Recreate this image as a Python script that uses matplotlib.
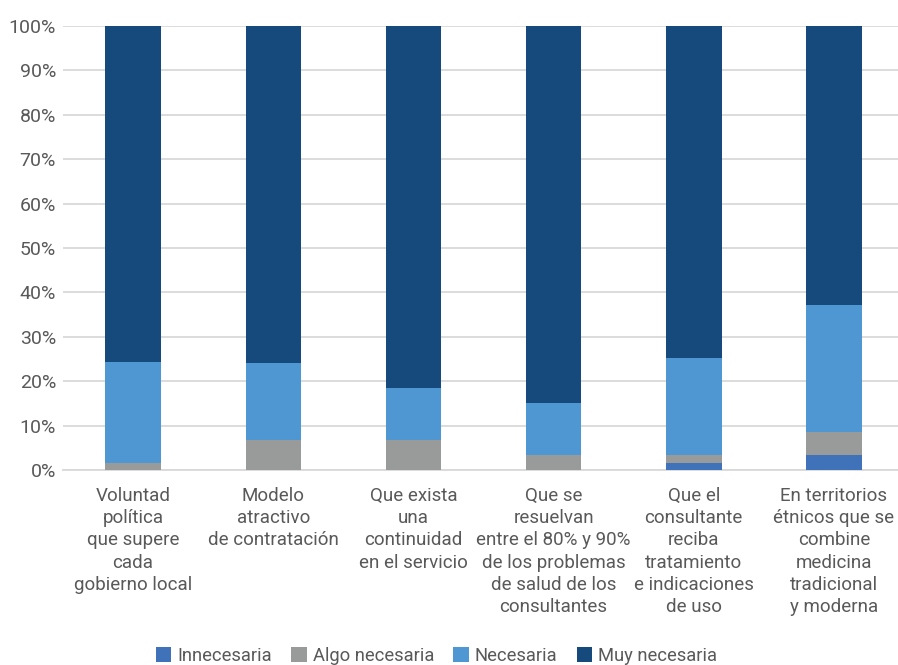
import matplotlib
matplotlib.use("Agg")
import matplotlib.pyplot as plt
import numpy as np

plt.rcParams['font.family'] = ['Roboto', 'DejaVu Sans']

categories = [
    "Voluntad\npolítica\nque supere\ncada\ngobierno local",
    "Modelo\natractivo\nde contratación",
    "Que exista\nuna\ncontinuidad\nen el servicio",
    "Que se\nresuelvan\nentre el 80% y 90%\nde los problemas\nde salud de los\nconsultantes",
    "Que el\nconsultante\nreciba\ntratamiento\ne indicaciones\nde uso",
    "En territorios\nétnicos que se\ncombine\nmedicina\ntradicional\ny moderna",
]
innecesaria = [0.0, 0.0, 0.0, 0.0, 1.6, 3.3]
algo_necesaria = [1.6, 6.8, 6.8, 3.4, 1.8, 5.2]
necesaria = [22.7, 17.2, 11.7, 11.8, 21.9, 28.7]
muy_necesaria = [75.7, 76.0, 81.5, 84.8, 74.7, 62.8]
series_names = ["Innecesaria", "Algo necesaria", "Necesaria", "Muy necesaria"]
colors = ["#3F72B9", "#999B9B", "#4F97D2", "#174A7C"]
yticks = [0, 10, 20, 30, 40, 50, 60, 70, 80, 90, 100]

W, H = 898, 665
fig = plt.figure(figsize=(W / 100, H / 100), dpi=100)
ax = fig.add_axes([63 / W, 1 - 470 / H, 1 - 63 / W, (470 - 26) / H])

x = np.arange(len(categories))
bottom = np.zeros(len(categories))
handles = []
for name, vals, c in zip(series_names, [innecesaria, algo_necesaria, necesaria, muy_necesaria], colors):
    vals = np.array(vals)
    b = ax.bar(x, vals, width=0.396, bottom=bottom, color=c, label=name, zorder=3)
    handles.append(b)
    bottom += vals

ax.set_ylim(0, 100)
ax.set_xlim(-0.5, 5.457)
ax.set_yticks(yticks)
ax.set_yticklabels([f"{v}%" for v in yticks])
ax.yaxis.grid(True, color="#D9D9D9", linewidth=1.3, zorder=0)
ax.set_axisbelow(True)
for s in ["top", "right", "left"]:
    ax.spines[s].set_visible(False)
ax.spines["bottom"].set_color("#D9D9D9")
ax.spines["bottom"].set_linewidth(1.3)
ax.tick_params(axis="y", length=0, labelsize=14, labelcolor="#595959", pad=5)
ax.tick_params(axis="x", length=0, labelsize=13.5, labelcolor="#595959", pad=12)
ax.set_xticks(x)
ax.set_xticklabels(categories, linespacing=1.31, va="top", ha="center")

fig.legend(handles=handles, labels=series_names, loc="center", bbox_to_anchor=(436.5 / W, 1 - 656 / H),
           ncol=4, frameon=False, fontsize=13.2, handlelength=0.85, handleheight=0.85,
           handletextpad=0.33, columnspacing=1.05, labelcolor="#595959", borderaxespad=0)

fig.savefig("out.png", dpi=100)
